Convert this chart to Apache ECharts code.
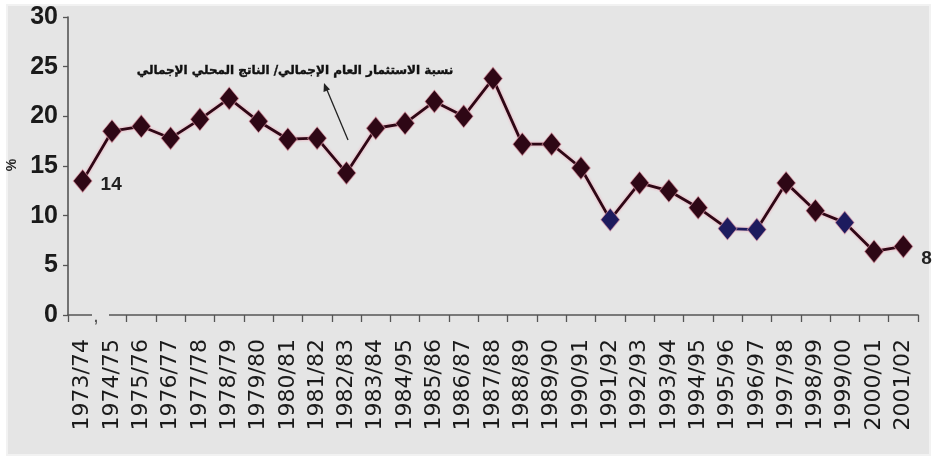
<!DOCTYPE html>
<html>
<head>
<meta charset="utf-8">
<script src="https://cdn.jsdelivr.net/npm/echarts@6/dist/echarts.min.js"></script>
<style>
html,body{margin:0;padding:0;background:#fff;}
#chart{width:936px;height:461px;}
</style>
</head>
<body>
<div id="chart"></div>
<script>
// ---- data ----
var categories = ['1973/74','1974/75','1975/76','1976/77','1977/78','1978/79','1979/80','1980/81','1981/82','1982/83','1983/84','1984/95','1985/86','1986/87','1987/88','1988/89','1989/90','1990/91','1991/92','1992/93','1993/94','1994/95','1995/96','1996/97','1997/98','1998/99','1999/00','2000/01','2001/02'];
var ratio = [13.5,18.5,19.0,17.8,19.7,21.8,19.5,17.7,17.8,14.3,18.8,19.3,21.5,20.0,23.8,17.2,17.2,14.8,9.6,13.3,12.5,10.8,8.7,8.6,13.3,10.5,9.3,6.4,6.9];
var blueYears = ['1991/92','1995/96','1996/97','1999/00'];
var endLabels = {'1973/74':'14','2001/02':'8'};
var seriesName = 'نسبة الاستثمار العام الإجمالي/ الناتج المحلي الإجمالي';
var yTicks = {min:0, max:30, step:5};

var MAROON = '#2e0715';
var BLUE = '#1d1b5e';
var BG = '#e5e5e5';

var blueIdx = blueYears.map(function(c){return categories.indexOf(c);});
var pieces = [];
blueIdx.forEach(function(i){ pieces.push({gte:i-0.01, lte:i+0.01, color:BLUE}); });
for (var k=0;k<blueIdx.length-1;k++){
  if (blueIdx[k+1]-blueIdx[k]===1) pieces.push({gte:blueIdx[k], lte:blueIdx[k+1], color:BLUE});
}

var seriesData = ratio.map(function(v,i){
  var item = {value:v};
  var lbl = endLabels[categories[i]];
  if (lbl){
    item.label = {show:true, formatter:lbl, position:'right', distance:8,
      offset:[0, i===0?4:12], fontSize:19, fontWeight:'bold', color:'#222',
      fontFamily:'"Liberation Sans Narrow","Liberation Sans",Arial,sans-serif'};
  }
  return item;
});

var chart = echarts.init(document.getElementById('chart'), null, {renderer:'canvas'});
chart.setOption({
  animation:false,
  backgroundColor:'#ffffff',
  graphic:[
    {type:'rect', z:-10, shape:{x:7,y:5,width:923,height:450},
     style:{fill:BG, stroke:'#f2f2f2', lineWidth:2}},
    {type:'rect', z:100, shape:{x:92,y:310,width:17,height:14}, style:{fill:BG}},
    {type:'text', z:101, x:94, y:311, style:{text:',', fontSize:14, fontWeight:'bold', fill:'#555'}},
    {type:'text', z:50, x:295, y:71,
     style:{text:seriesName, fontSize:12, fontWeight:'bold', fill:'#111',
       fontFamily:'"DejaVu Sans",sans-serif', align:'center', verticalAlign:'middle',
       stroke:'#111', lineWidth:0.4}},
    {type:'line', z:50, shape:{x1:348,y1:140,x2:327,y2:90}, style:{stroke:'#222', lineWidth:1.3}},
    {type:'polygon', z:50, shape:{points:[[324,83],[323.5,92],[330,89.5]]}, style:{fill:'#222'}},
    {type:'text', z:50, x:12, y:165, rotation:Math.PI/2,
     style:{text:'%', fontSize:14, fontWeight:'bold', fill:'#222', align:'center', verticalAlign:'middle',
       fontFamily:'"Liberation Sans",Arial,sans-serif'}}
  ],
  grid:{left:68, right:18, top:17, bottom:146, containLabel:false},
  xAxis:{
    type:'category', data:categories, boundaryGap:true,
    axisLine:{lineStyle:{color:'#555', width:1.6}},
    axisTick:{show:true, length:7, lineStyle:{color:'#555', width:1.3}},
    axisLabel:{rotate:90, interval:0, margin:24, fontSize:22, color:'#1a1a1a',
      fontFamily:'"DejaVu Sans",sans-serif'}
  },
  yAxis:{
    type:'value', min:yTicks.min, max:yTicks.max, interval:yTicks.step,
    splitLine:{show:false},
    axisLine:{show:true, lineStyle:{color:'#555', width:1.6}},
    axisTick:{show:true, length:5, lineStyle:{color:'#555', width:1.3}},
    axisLabel:{fontSize:25, margin:10, color:'#1a1a1a', fontWeight:'bold',
      fontFamily:'"Liberation Sans Narrow","Liberation Sans",Arial,sans-serif'}
  },
  visualMap:{show:false, type:'piecewise', dimension:0, pieces:pieces, outOfRange:{color:MAROON}},
  series:[{
    name:seriesName, type:'line', data:seriesData,
    symbol:'diamond', symbolSize:[19,23],
    lineStyle:{width:2.8, shadowColor:'rgba(235,150,170,0.9)', shadowBlur:3},
    itemStyle:{color:MAROON, borderColor:'rgba(235,160,175,0.6)', borderWidth:1}
  }]
});
</script>
</body>
</html>
